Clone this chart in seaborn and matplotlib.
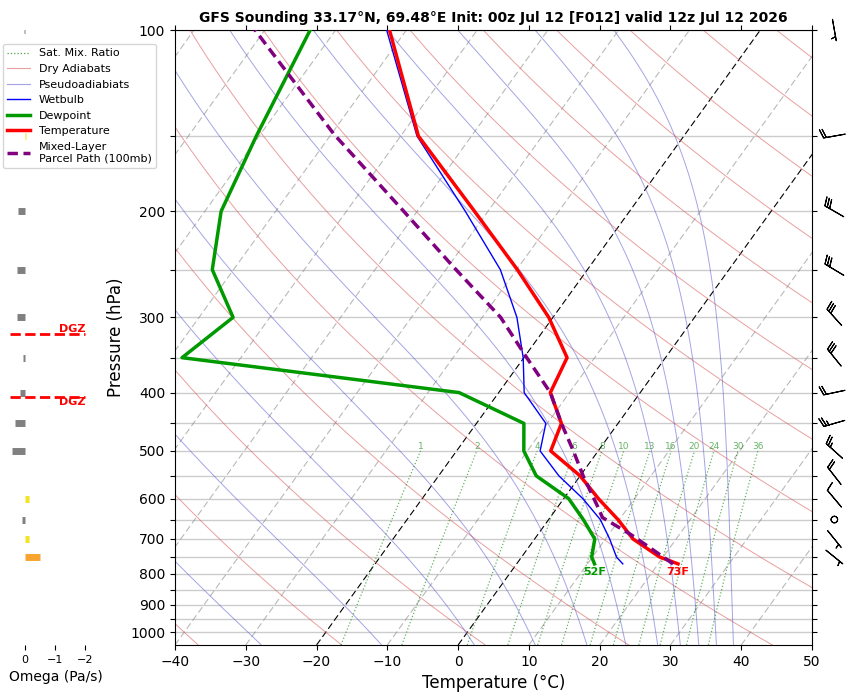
import numpy as np
import matplotlib
matplotlib.use('Agg')
import matplotlib.pyplot as plt
import seaborn as sns
from matplotlib.lines import Line2D
from matplotlib.ticker import NullLocator

# ---------------------------------------------------------------------------
# sounding data (hPa, degC)
# ---------------------------------------------------------------------------
levels = [770, 750, 700, 650, 600, 550, 500, 450, 400, 350, 300, 250, 200, 150, 100]
temp = [22.8, 19.5, 13.9, 9.8, 4.9, 0.0, -6.7, -8.0, -12.7, -13.9, -20.6, -29.9, -41.9, -57.5, -72.4]
dewpt = [11.0, 9.9, 8.5, 4.9, 0.7, -6.2, -10.5, -13.3, -25.6, -68.3, -65.2, -73.0, -77.7, -80.4, -83.6]
wetbulb = [15.0, 13.4, 10.6, 7.3, 2.7, -3.0, -8.2, -10.2, -16.4, -20.1, -25.1, -32.3, -43.2, -57.7, -72.8]

parcel_p = [770, 724, 688, 645, 617, 551, 500, 450, 400, 350, 300, 247, 200, 149, 119, 100]
parcel_t = [22.1, 17.2, 13.1, 7.4, 5.5, 0.5, -3.5, -8.0, -12.7, -19.6, -27.4, -39.3, -51.9, -69.6, -81.9, -91.4]

wind_p = [100, 150, 200, 250, 300, 350, 400, 450, 500, 550, 600, 650, 700, 750]
wind_dir = [170, 260, 300, 301, 318, 321, 258, 254, 312, 322, 320, 0, 141, 129]
wind_kt = [5, 20, 30, 30, 30, 30, 20, 25, 25, 20, 10, 0, 5, 5]

omega_p = [100, 150, 200, 250, 300, 350, 400, 450, 500, 600, 650, 700, 750]
omega = [0.05, -0.04, 0.23, 0.27, 0.27, 0.07, 0.17, 0.33, 0.43, -0.13, 0.10, -0.13, -0.50]

dgz_top, dgz_bot = 320, 407

mix_ratios = [1, 2, 4, 6, 8, 10, 13, 16, 20, 24, 30, 36]
dry_t0 = np.arange(-40, 261, 20)
moist_t0 = [-27.8, -10.8, 2.3, 10.9, 18.2, 23.7, 28.2, 31.4, 34.0, 36.5, 38.9]  # at 1050 hPa

title = 'GFS Sounding 33.17°N, 69.48°E Init: 00z Jul 12 [F012] valid 12z Jul 12 2026'

# ---------------------------------------------------------------------------
P_BOT, P_TOP = 1050, 100
K = 61.4  # skew (degC per decade of pressure)


def skew(t, p):
    return np.asarray(t, dtype=float) + K * np.log10(P_BOT / np.asarray(p, dtype=float))


def moist_lapse(t0, p):
    # pseudoadiabat integrated in ln(p), RK4
    Rd, Lv, cp, eps = 287.04, 2.501e6, 1005.7, 0.622

    def f(T, pp):
        es = 6.112 * np.exp(17.67 * (T - 273.15) / (T - 29.65))
        rs = eps * es / (pp - es)
        return (Rd * T + Lv * rs) / (cp + Lv ** 2 * rs * eps / (Rd * T ** 2))

    T = np.asarray(t0, dtype=float) + 273.15
    out = [T.copy()]
    for i in range(len(p) - 1):
        h = np.log(p[i + 1]) - np.log(p[i])
        pm = np.exp(np.log(p[i]) + h / 2)
        k1 = f(T, p[i])
        k2 = f(T + h * k1 / 2, pm)
        k3 = f(T + h * k2 / 2, pm)
        k4 = f(T + h * k3, p[i + 1])
        T = T + h * (k1 + 2 * k2 + 2 * k3 + k4) / 6
        out.append(T.copy())
    return np.array(out) - 273.15


def dewpoint_from_mix(w, p):
    w = w / 1000.0
    e = p * w / (0.622 + w)
    a = np.log(e / 6.112)
    return 243.5 * a / (17.67 - a)


fig = plt.figure(figsize=(8.55, 6.95), dpi=100)
L, B, R, T = 175 / 855, 1 - 645 / 695, 812 / 855, 1 - 30 / 695
ax = fig.add_axes([L, B, R - L, T - B])
ax.set_yscale('log')
ax.set_ylim(P_BOT, P_TOP)
ax.set_xlim(-40, 50)

# background lines
pp = np.geomspace(P_BOT, P_TOP, 200)
for t in range(-120, 51, 10):
    if t in (0, -20):
        ax.plot([t, t + K * np.log10(P_BOT / P_TOP)], [P_BOT, P_TOP], color='black',
                ls=(0, (6, 3)), lw=0.8, zorder=1)
    else:
        ax.plot([t, t + K * np.log10(P_BOT / P_TOP)], [P_BOT, P_TOP], color='gray',
                ls=(0, (6, 3)), lw=0.8, alpha=0.55, zorder=1)

for t0 in dry_t0:
    tt = (t0 + 273.15) * (pp / 1000.0) ** 0.2857 - 273.15
    ax.plot(skew(tt, pp), pp, color='#d9605f', lw=0.7, alpha=0.6, zorder=1)

moist = moist_lapse(moist_t0, pp)
for j in range(moist.shape[1]):
    ax.plot(skew(moist[:, j], pp), pp, color='#5a5ad0', lw=0.7, alpha=0.55, zorder=1)

pm = np.geomspace(P_BOT, 500, 60)
for w in mix_ratios:
    td = dewpoint_from_mix(w, pm)
    ax.plot(skew(td, pm), pm, color='green', ls=':', lw=0.9, alpha=0.6, zorder=1)
    ax.text(skew(dewpoint_from_mix(w, 500.0), 500.0), 500, str(w), ha='center', va='bottom',
            fontsize=6.5, color='green', alpha=0.6)

# profiles
sns.lineplot(x=skew(wetbulb, levels), y=levels, sort=False, estimator=None,
             color='blue', lw=1.0, ax=ax, zorder=3)
sns.lineplot(x=skew(dewpt, levels), y=levels, sort=False, estimator=None,
             color='#009a00', lw=2.5, ax=ax, zorder=4)
sns.lineplot(x=skew(temp, levels), y=levels, sort=False, estimator=None,
             color='red', lw=2.5, ax=ax, zorder=4)
ax.plot(skew(parcel_t, parcel_p), parcel_p, color='purple', lw=2.5, ls=(0, (3, 1.6)), zorder=5)

ax.annotate(f'{dewpt[0] * 9 / 5 + 32:.0f}F', (skew(dewpt[0], levels[0]), levels[0]),
            xytext=(0, -2), textcoords='offset points', ha='center', va='top',
            color='#009a00', fontsize=8, fontweight='bold')
ax.annotate(f'{temp[0] * 9 / 5 + 32:.0f}F', (skew(temp[0], levels[0]), levels[0]),
            xytext=(0, -2), textcoords='offset points', ha='center', va='top',
            color='red', fontsize=8, fontweight='bold')

# axes cosmetics
yt = list(range(100, 1001, 50))
ax.yaxis.set_minor_locator(NullLocator())
ax.set_yticks(yt)
ax.set_yticklabels([str(p) if p % 100 == 0 else '' for p in yt])
ax.set_xticks(range(-40, 51, 10))
ax.tick_params(which='both', top=True, right=True, labelsize=10)
ax.yaxis.grid(True, color='#cccccc', lw=1)
ax.set_axisbelow(True)
ax.set_xlabel('Temperature (°C)', fontsize=12)
ax.set_ylabel('Pressure (hPa)', fontsize=12)
ax.set_title(title, fontsize=10, fontweight='bold')

handles = [
    Line2D([], [], color='green', ls=':', lw=0.9, alpha=0.7),
    Line2D([], [], color='#d9605f', lw=0.8, alpha=0.6),
    Line2D([], [], color='#5a5ad0', lw=0.8, alpha=0.55),
    Line2D([], [], color='blue', lw=1.0),
    Line2D([], [], color='#009a00', lw=2.5),
    Line2D([], [], color='red', lw=2.5),
    Line2D([], [], color='purple', lw=2.5, ls=(0, (3, 1.6))),
]
names = ['Sat. Mix. Ratio', 'Dry Adiabats', 'Pseudoadiabiats', 'Wetbulb', 'Dewpoint',
         'Temperature', 'Mixed-Layer\nParcel Path (100mb)']
ax.legend(handles, names, loc='upper left', bbox_to_anchor=(3 / 855, 1 - 44 / 695),
          bbox_transform=fig.transFigure, fontsize=8, borderaxespad=0)

# omega panel
axo = fig.add_axes([5 / 855, B, 102 / 855, T - B])
axo.patch.set_visible(False)
axo.set_yscale('log')
axo.set_ylim(P_BOT, P_TOP)
axo.set_xlim(20 / 30, -82 / 30)
cols = ['gray' if w > 0 else ('#f5e224' if w > -0.3 else '#f7a530') for w in omega]
axo.hlines(omega_p, 0, omega, colors=cols, lw=5)
axo.hlines([dgz_top, dgz_bot], 0.5, -2.0, colors='red', linestyles='--', lw=2)
axo.text(-2.0, dgz_top, 'DGZ', ha='right', va='bottom', color='red', fontsize=8, fontweight='bold')
axo.text(-2.0, dgz_bot, 'DGZ', ha='right', va='top', color='red', fontsize=8, fontweight='bold')
for s in axo.spines.values():
    s.set_visible(False)
axo.yaxis.set_visible(False)
axo.set_xticks([0, -1, -2])
axo.tick_params(axis='x', labelsize=8)
axo.set_xlabel('Omega (Pa/s)', fontsize=10)

# wind barbs
axb = fig.add_axes([812 / 855, B, 43 / 855, T - B])
axb.set_yscale('log')
axb.set_ylim(P_BOT, P_TOP)
axb.set_xlim(0, 1)
axb.axis('off')
d = np.deg2rad(wind_dir)
u = -np.array(wind_kt) * np.sin(d)
v = -np.array(wind_kt) * np.cos(d)
axb.barbs(np.full(len(wind_p), 0.52), wind_p, u, v, pivot='middle', length=5.6, lw=0.8,
          clip_on=False)

fig.savefig('out.png', dpi=100)
